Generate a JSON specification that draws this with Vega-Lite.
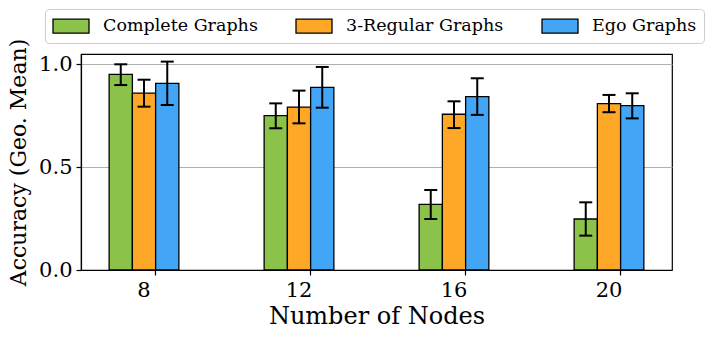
{
  "$schema": "https://vega.github.io/schema/vega-lite/v6.json",
  "width": 591,
  "height": 216,
  "autosize": "none",
  "padding": {"left": 81, "top": 54, "right": 46, "bottom": 71},
  "background": "white",
  "config": {
    "view": {"stroke": "black", "strokeWidth": 1.2},
    "axis": {
      "labelFont": "DejaVu Serif",
      "titleFont": "DejaVu Serif",
      "labelColor": "black",
      "titleColor": "black",
      "domainColor": "black",
      "tickColor": "black",
      "labelFontSize": 21,
      "titleFontSize": 24,
      "titleFontWeight": "normal",
      "tickSize": 5,
      "tickWidth": 1.2,
      "domainWidth": 1.2
    }
  },
  "data": {
    "values": [
      {"nodes": 8, "series": "Complete Graphs", "value": 0.951, "lo": 0.899, "hi": 1.0},
      {"nodes": 8, "series": "3-Regular Graphs", "value": 0.86, "lo": 0.794, "hi": 0.925},
      {"nodes": 8, "series": "Ego Graphs", "value": 0.907, "lo": 0.802, "hi": 1.013},
      {"nodes": 12, "series": "Complete Graphs", "value": 0.75, "lo": 0.689, "hi": 0.81},
      {"nodes": 12, "series": "3-Regular Graphs", "value": 0.792, "lo": 0.713, "hi": 0.872},
      {"nodes": 12, "series": "Ego Graphs", "value": 0.888, "lo": 0.789, "hi": 0.987},
      {"nodes": 16, "series": "Complete Graphs", "value": 0.319, "lo": 0.248, "hi": 0.389},
      {"nodes": 16, "series": "3-Regular Graphs", "value": 0.757, "lo": 0.69, "hi": 0.82},
      {"nodes": 16, "series": "Ego Graphs", "value": 0.843, "lo": 0.754, "hi": 0.932},
      {"nodes": 20, "series": "Complete Graphs", "value": 0.248, "lo": 0.167, "hi": 0.329},
      {"nodes": 20, "series": "3-Regular Graphs", "value": 0.809, "lo": 0.767, "hi": 0.851},
      {"nodes": 20, "series": "Ego Graphs", "value": 0.799, "lo": 0.737, "hi": 0.859}
    ]
  },
  "encoding": {
    "x": {
      "field": "nodes",
      "type": "nominal",
      "sort": [8, 12, 16, 20],
      "scale": {"paddingInner": 0.55, "paddingOuter": 0.1815},
      "axis": {"labelAngle": 0, "bandPosition": 0.667, "title": "Number of Nodes", "labelPadding": 4, "titlePadding": 4, "grid": false}
    },
    "xOffset": {
      "field": "series",
      "type": "nominal",
      "sort": ["Complete Graphs", "3-Regular Graphs", "Ego Graphs"],
      "scale": {"paddingInner": 0, "paddingOuter": 0}
    }
  },
  "layer": [
    {
      "mark": {"type": "bar", "stroke": "black", "strokeWidth": 1.3},
      "encoding": {
        "y": {
          "field": "value",
          "type": "quantitative",
          "scale": {"domain": [0, 1.05], "nice": false},
          "axis": {
            "values": [0, 0.5, 1.0],
            "format": ".1f",
            "grid": true,
            "gridColor": "#b0b0b0",
            "gridWidth": 1,
            "title": "Accuracy (Geo. Mean)",
            "titleFontSize": 22,
            "labelPadding": 4,
            "titlePadding": 8
          }
        },
        "color": {
          "field": "series",
          "type": "nominal",
          "sort": ["Complete Graphs", "3-Regular Graphs", "Ego Graphs"],
          "scale": {
            "domain": ["Complete Graphs", "3-Regular Graphs", "Ego Graphs"],
            "range": ["#8BC34A", "#FFA726", "#42A5F5"]
          },
          "legend": {
            "title": null,
            "orient": "none",
            "legendX": -36,
            "legendY": -45,
            "direction": "horizontal",
            "symbolType": "M-1,-0.778H3V0.778H-1Z",
            "symbolSize": 324,
            "symbolStrokeColor": "black",
            "symbolStrokeWidth": 1.3,
            "symbolOpacity": 1,
            "labelFont": "DejaVu Serif",
            "labelFontSize": 17.5,
            "labelColor": "black",
            "labelOffset": 31,
            "columnPadding": 35,
            "padding": 7,
            "strokeColor": "#cccccc",
            "fillColor": "white",
            "cornerRadius": 4
          }
        }
      }
    },
    {
      "mark": {"type": "rule", "color": "black", "strokeWidth": 2},
      "encoding": {
        "y": {"field": "lo", "type": "quantitative"},
        "y2": {"field": "hi"}
      }
    },
    {
      "mark": {"type": "tick", "color": "black", "thickness": 2, "size": 13, "opacity": 1},
      "encoding": {"y": {"field": "lo", "type": "quantitative"}}
    },
    {
      "mark": {"type": "tick", "color": "black", "thickness": 2, "size": 13, "opacity": 1},
      "encoding": {"y": {"field": "hi", "type": "quantitative"}}
    }
  ]
}
